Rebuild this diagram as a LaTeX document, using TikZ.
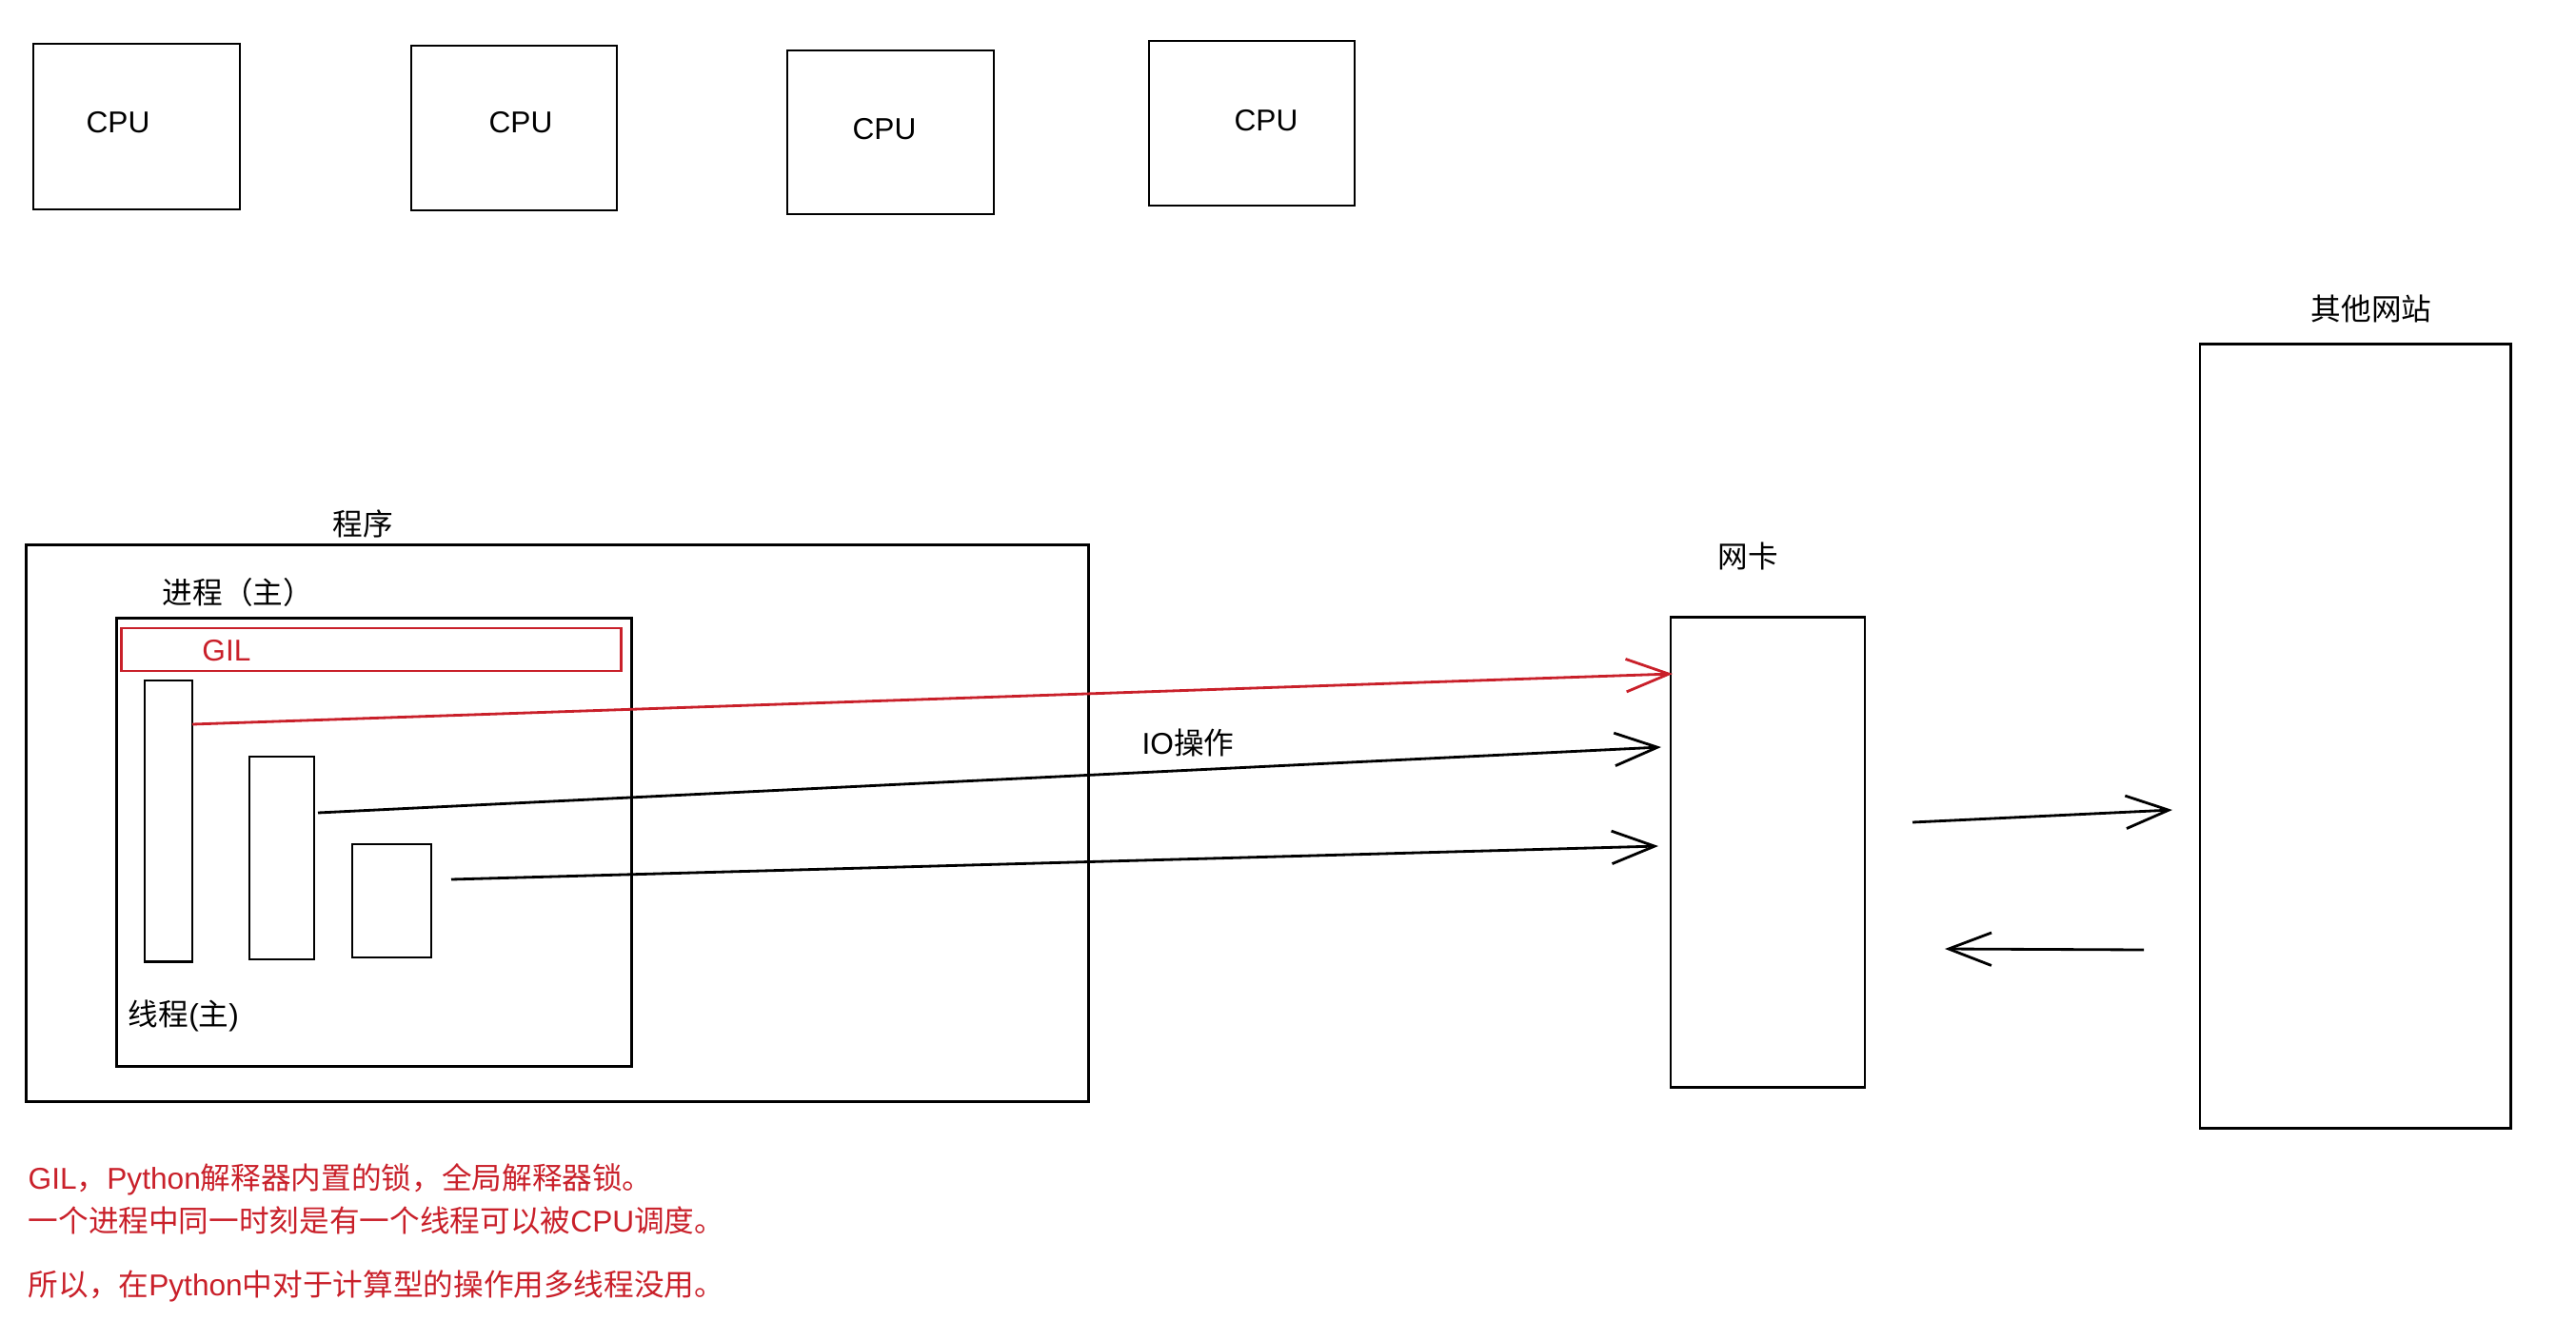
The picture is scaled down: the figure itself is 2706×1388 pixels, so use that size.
\documentclass[tikz,border=0pt]{standalone}
\usepackage{fontspec}
\setmainfont{Liberation Sans}
\newfontfamily\cjkfont{Noto Sans CJK SC}
\newcommand\zhtxt[1]{{\cjkfont #1}}
\usetikzlibrary{arrows.meta}
\definecolor{sketchred}{RGB}{201,32,42}
\begin{document}
\begin{tikzpicture}[x=0.01cm,y=-0.01cm,
  box/.style={draw=black, line width=0.8pt, inner sep=0pt, rectangle},
  redbox/.style={draw=sketchred, line width=0.8pt, inner sep=0pt, rectangle},
  lbl/.style={inner sep=0pt, font=\fontsize{9pt}{11pt}\selectfont},
  note/.style={inner sep=0pt, anchor=west, text=sketchred, font=\fontsize{9pt}{11pt}\selectfont},
  conn/.style={line width=0.8pt, -{Straight Barb[length=12.8pt, width=9.8pt, line width=0.8pt]}},
]
\useasboundingbox (0,0) rectangle (2706,1388);

% CPUs
\node[box, minimum width=2.17cm, minimum height=1.74cm] (cpu1) at (143.5,133) {};
\node[box, minimum width=2.16cm, minimum height=1.73cm] (cpu2) at (540,134.5) {};
\node[box, minimum width=2.17cm, minimum height=1.72cm] (cpu3) at (935.5,139) {};
\node[box, minimum width=2.16cm, minimum height=1.73cm] (cpu4) at (1315,129.5) {};
\node[lbl] (cpu1t) at (124,129) {CPU};
\node[lbl] (cpu2t) at (547,129) {CPU};
\node[lbl] (cpu3t) at (929,136) {CPU};
\node[lbl] (cpu4t) at (1330,127) {CPU};

% program / process
\node[box, minimum width=11.15cm, minimum height=5.84cm] (prog) at (585.5,865) {};
\node[lbl] (progt) at (381,550) {\zhtxt{程序}};
\node[box, minimum width=5.40cm, minimum height=4.70cm] (proc) at (393,885) {};
\node[lbl] (proct) at (250,622) {\zhtxt{进程（主）}};
\node[redbox, minimum width=5.24cm, minimum height=0.45cm] (gil) at (390,682.5) {};
\node[lbl, text=sketchred] (gilt) at (238,684) {GIL};

% threads
\node[box, minimum width=0.50cm, minimum height=2.95cm] (bar1) at (177,862.5) {};
\node[box, minimum width=0.68cm, minimum height=2.13cm] (bar2) at (296,901.5) {};
\node[box, minimum width=0.83cm, minimum height=1.19cm] (bar3) at (411.5,946.5) {};
\node[lbl] (thrt) at (193,1067) {\zhtxt{线程}(\zhtxt{主})};

% NIC and sites
\node[box, minimum width=2.04cm, minimum height=4.93cm] (nic) at (1857,895.5) {};
\node[lbl] (nict) at (1836,584) {\zhtxt{网卡}};
\node[box, minimum width=3.26cm, minimum height=8.23cm] (site) at (2474,773.5) {};
\node[lbl] (sitet) at (2491,324) {\zhtxt{其他网站}};

% connector end points
\coordinate (rs) at (202,761);
\coordinate (re) at (1757,708);
\coordinate (b1s) at (334,854);
\coordinate (b1e) at (1745,785);
\coordinate (b2s) at (474,924);
\coordinate (b2e) at (1742,889);
\coordinate (ns) at (2009,864);
\coordinate (ne) at (2282,851);
\coordinate (ss) at (2252,998);
\coordinate (se) at (2043,997);

\draw[conn, draw=sketchred] (rs) -- (re);
\draw[conn] (b1s) -- (b1e);
\draw[conn] (b2s) -- (b2e);
\draw[conn] (ns) -- (ne);
\draw[conn] (ss) -- (se);
\node[lbl] (iot) at (1248,780) {IO\zhtxt{操作}};

% notes
\node[note] (n1) at (29,1239) {GIL\zhtxt{，}Python\zhtxt{解释器内置的锁，全局解释器锁。}};
\node[note] (n2) at (29,1282) {\zhtxt{一个进程中同一时刻是有一个线程可以被}CPU\zhtxt{调度。}};
\node[note] (n3) at (29,1351) {\zhtxt{所以，在}Python\zhtxt{中对于计算型的操作用多线程没用。}};
\end{tikzpicture}
\end{document}
